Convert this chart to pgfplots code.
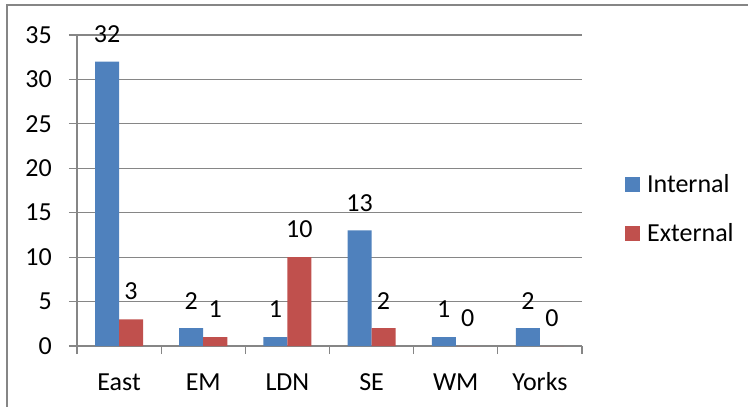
\documentclass[border=0pt]{standalone}
\usepackage{pgfplots}
\pgfplotsset{compat=1.18}
\usepackage{fontspec}
\setmainfont{Carlito}
\definecolor{xlblue}{RGB}{79,129,189}
\definecolor{xlred}{RGB}{192,80,77}
\definecolor{xlgrid}{RGB}{134,134,134}

\begin{document}
\fontsize{26bp}{31bp}\selectfont
\begin{tikzpicture}
\useasboundingbox (-77bp,-61bp) rectangle (671bp,346bp);
\draw[xlgrid, line width=1.3bp] (-70bp,-62bp) -- (-70bp,341bp) -- (672bp,341bp);
\begin{axis}[
    scale only axis,
    width=505bp, height=311bp,
    ybar=0pt, bar width=24bp,
    xmin=-0.5, xmax=5.5,
    ymin=0, ymax=35,
    ytick={0,5,...,35},
    xtick={0,...,5},
    xticklabels={East,EM,LDN,SE,WM,Yorks},
    minor xtick={-0.5,0.5,1.5,2.5,3.5,4.5,5.5},
    major x tick style={draw=none},
    axis x line*=bottom, axis y line*=left,
    axis line style={xlgrid, line width=1.2bp},
    every tick/.style={xlgrid, line width=1.2bp},
    tick align=outside,
    major tick length=8bp, minor tick length=8bp,
    ymajorgrids,
    grid style={xlgrid, line width=1.2bp},
    /pgf/number format/assume math mode=true,
    yticklabel style={anchor=east, inner sep=0pt, xshift=-17bp},
    xticklabel style={anchor=base, inner sep=0pt, yshift=-36bp},
    tick label style={font=\fontsize{26bp}{31bp}\selectfont},
    nodes near coords,
    every node near coord/.append style={inner sep=0pt, yshift=19bp, font=\fontsize{26bp}{31bp}\selectfont},
    legend style={draw=none, fill=none, at={(1.085,0.439)}, anchor=west,
        inner sep=0pt, column sep=7bp, row sep=27bp,
        nodes={inner sep=0pt}, font=\fontsize{26bp}{31bp}\selectfont},
    legend cell align=left,
    legend image code/.code={\fill[#1] (0bp,-7.5bp) rectangle (15bp,7.5bp);},
]
\addplot[fill=xlblue, draw=none] coordinates {(0,32) (1,2) (2,1) (3,13) (4,1) (5,2)};
\addplot[fill=xlred, draw=none] coordinates {(0,3) (1,1) (2,10) (3,2) (4,0) (5,0)};
\legend{Internal,External}
\end{axis}
\end{tikzpicture}
\end{document}
